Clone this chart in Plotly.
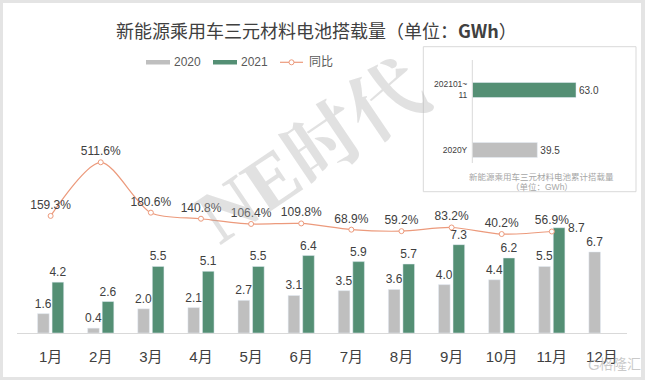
import plotly.graph_objects as go

months = ["1月", "2月", "3月", "4月", "5月", "6月", "7月", "8月", "9月", "10月", "11月", "12月"]
v2020 = [1.6, 0.4, 2.0, 2.1, 2.7, 3.1, 3.5, 3.6, 4.0, 4.4, 5.5, 6.7]
v2021 = [4.2, 2.6, 5.5, 5.1, 5.5, 6.4, 5.9, 5.7, 7.3, 6.2, 8.7, None]
yoy = [159.3, 511.6, 180.6, 140.8, 106.4, 109.8, 68.9, 59.2, 83.2, 40.2, 56.9]
inset_cats = ["2020Y", "202101~11"]
inset_labels = ["2020Y", "202101~<br>11"]
inset_vals = [39.5, 63.0]

W, H = 645, 380
L, R, T, B = 17, 627, 91, 333


def px(x):
    return x / W


def py(y):
    return 1 - y / H


GRAY = "#BFBFBF"
GREEN = "#548F74"
LINE = "#EC9A7C"
TXT = "#404040"
FONT = "Liberation Sans, Noto Sans CJK SC, sans-serif"

# the last 2021 label sits beside its bar (as in the reference)
side_idx = 10
txt2021 = ["" if (v is None or i == side_idx) else f"{v:.1f}" for i, v in enumerate(v2021)]
txt2020 = [f"{v:.1f}" for v in v2020]

fig = go.Figure()
fig.add_trace(go.Bar(x=months, y=v2020, name="2020", marker_color=GRAY,
                     text=txt2020, textposition="outside", constraintext="none",
                     textfont=dict(size=12, color=TXT), cliponaxis=False))
fig.add_trace(go.Bar(x=months, y=v2021, name="2021", marker_color=GREEN,
                     text=txt2021, textposition="outside", constraintext="none",
                     textfont=dict(size=12, color=TXT), cliponaxis=False))
fig.add_trace(go.Scatter(x=months[:len(yoy)], y=yoy, name="同比", yaxis="y2",
                         mode="lines+markers+text", line=dict(color=LINE, width=1.2, shape="spline", smoothing=0.8),
                         marker=dict(symbol="circle", size=5, color="white", line=dict(color=LINE, width=1)),
                         texttemplate="%{y:.1f}%", textposition="top center",
                         textfont=dict(size=12, color=TXT), cliponaxis=False))

# inset
fig.add_trace(go.Bar(x=inset_vals, y=inset_cats, orientation="h", xaxis="x3", yaxis="y3",
                     marker_color=[GRAY, GREEN], width=0.25,
                     texttemplate="%{x:.1f}", textposition="outside", constraintext="none",
                     textfont=dict(size=10, color=TXT), cliponaxis=False))

inx0, inx1 = 472.3, 620
iny0, iny1 = 60, 180

fig.update_layout(
    width=W, height=H,
    margin=dict(l=0, r=0, t=0, b=0),
    paper_bgcolor="#E4E4E4",
    plot_bgcolor="rgba(0,0,0,0)",
    font=dict(family=FONT, color=TXT),
    barmode="group", bargap=0.42, bargroupgap=0.2,
    showlegend=False,
    xaxis=dict(domain=[px(L), px(R)], showline=True, linecolor="#D9D9D9", linewidth=1, showgrid=False, ticks="",
               tickfont=dict(size=15, color=TXT), ticklabelstandoff=10, automargin=False),
    yaxis=dict(domain=[py(B), py(T)], range=[0, 20], visible=False, showgrid=False),
    yaxis2=dict(range=[-610, 980], overlaying="y", visible=False, showgrid=False),
    xaxis3=dict(domain=[px(inx0), px(inx1)], range=[0, (inx1 - inx0) / 1.646], anchor="y3",
                visible=False, showgrid=False),
    yaxis3=dict(domain=[py(iny1), py(iny0)], anchor="x3", range=[-0.5, 1.5],
                tickmode="array", tickvals=inset_cats, ticktext=inset_labels,
                tickfont=dict(size=8.5, color=TXT), showgrid=False, showline=False, ticks="",
                ticklabelstandoff=4, automargin=False),
)

shapes = [
    dict(type="rect", xref="paper", yref="paper", x0=px(3), x1=px(641), y0=py(377), y1=py(3),
         fillcolor="white", line=dict(width=0), layer="below"),
    dict(type="rect", xref="paper", yref="paper", x0=px(423.3), x1=px(636), y0=py(191.7), y1=py(46.7),
         fillcolor="rgba(0,0,0,0)", line=dict(color="#D9D9D9", width=1), layer="above"),
    dict(type="line", xref="paper", yref="paper", x0=px(472.3), x1=px(472.3), y0=py(163), y1=py(60),
         line=dict(color="#D9D9D9", width=1)),
    dict(type="rect", xref="paper", yref="paper", x0=px(146), x1=px(170), y0=py(64.5), y1=py(60),
         fillcolor=GRAY, line=dict(width=0)),
    dict(type="rect", xref="paper", yref="paper", x0=px(213), x1=px(237), y0=py(64.5), y1=py(60),
         fillcolor=GREEN, line=dict(width=0)),
    dict(type="line", xref="paper", yref="paper", x0=px(280), x1=px(303), y0=py(62.3), y1=py(62.3),
         line=dict(color=LINE, width=1.2)),
    dict(type="circle", xref="paper", yref="paper", x0=px(289), x1=px(294), y0=py(64.8), y1=py(59.8),
         fillcolor="white", line=dict(color=LINE, width=1)),
]

annotations = [
    dict(text="<b>NE时代</b>", xref="paper", yref="paper", x=px(312), y=py(152), showarrow=False,
         textangle=-34, font=dict(size=76, family="Liberation Serif, Noto Serif CJK SC, Noto Sans CJK SC",
                                   color="rgba(175,175,175,0.38)"),
         xanchor="center", yanchor="middle"),
    dict(text="新能源乘用车三元材料电池搭载量（单位：<b>GWh</b>）", xref="paper", yref="paper",
         x=px(316.5), y=py(30), showarrow=False, xanchor="center", yanchor="middle",
         font=dict(size=18, color=TXT, family="Noto Sans CJK SC, sans-serif")),
    dict(text="2020", xref="paper", yref="paper", x=px(172), y=py(62.3), showarrow=False,
         xanchor="left", yanchor="middle", font=dict(size=12, color="#595959")),
    dict(text="2021", xref="paper", yref="paper", x=px(239), y=py(62.3), showarrow=False,
         xanchor="left", yanchor="middle", font=dict(size=12, color="#595959")),
    dict(text="同比", xref="paper", yref="paper", x=px(307), y=py(62.3), showarrow=False,
         xanchor="left", yanchor="middle", font=dict(size=12, color="#595959")),
    dict(text="新能源乘用车三元材料电池累计搭载量", xref="paper", yref="paper", x=px(541.5), y=py(176.7),
         showarrow=False, xanchor="center", yanchor="middle", font=dict(size=8.5, color="#A6A6A6")),
    dict(text="（单位：GWh）", xref="paper", yref="paper", x=px(541.5), y=py(186.5),
         showarrow=False, xanchor="center", yanchor="middle", font=dict(size=8.5, color="#A6A6A6")),
    # data label of the last 2021 bar, placed beside the bar top
    dict(text=f"{v2021[side_idx]:.1f}", xref="x", yref="y", x=months[side_idx], y=v2021[side_idx],
         showarrow=False, xanchor="left", yanchor="middle", xshift=14,
         font=dict(size=12, color=TXT)),
    dict(text="格隆汇", xref="paper", yref="paper", x=px(620), y=py(364), showarrow=False,
         xanchor="center", yanchor="middle", font=dict(size=14, color="rgba(150,150,150,0.5)")),
    dict(text="G", xref="paper", yref="paper", x=px(594), y=py(364), showarrow=False,
         xanchor="center", yanchor="middle", font=dict(size=15, color="rgba(150,150,150,0.5)")),
]

fig.update_layout(shapes=shapes, annotations=annotations)
fig.write_html("out.html", config={"displayModeBar": False},
               post_script="document.body.style.margin='0px';")
